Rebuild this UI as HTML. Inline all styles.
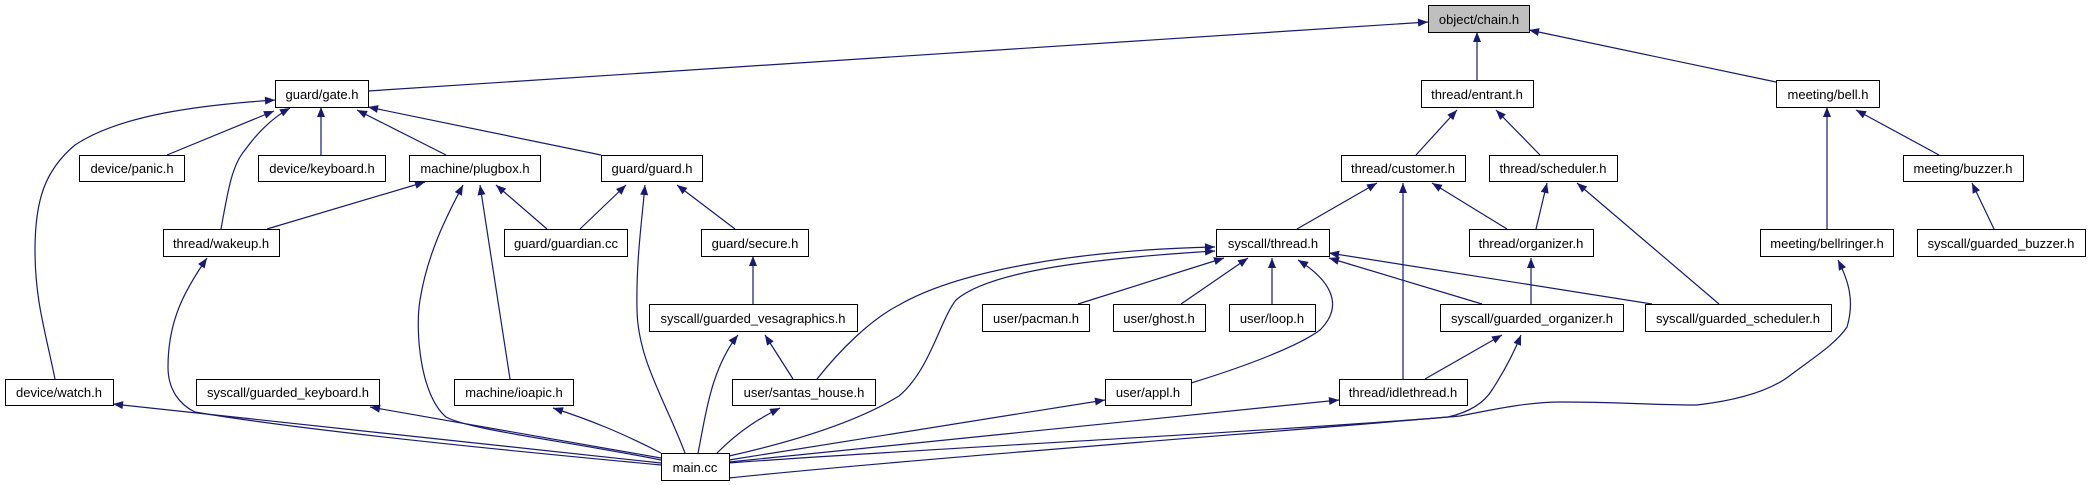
<!DOCTYPE html>
<html><head><meta charset="utf-8"><style>
html,body{margin:0;padding:0;background:#fff;}
svg{display:block;}
text{font-family:"Liberation Sans",sans-serif;font-size:13px;fill:#000;}
</style></head><body>
<svg width="2091" height="485" viewBox="0 0 2091 485" xmlns="http://www.w3.org/2000/svg">
<defs>
<marker id="a" viewBox="0 0 10 8" refX="10" refY="4" markerWidth="11" markerHeight="8" markerUnits="userSpaceOnUse" orient="auto">
<path d="M0,0 L10,4 L0,8 z" fill="#191970"/>
</marker>
</defs>
<g fill="none" stroke="#191970" stroke-width="1.2" marker-end="url(#a)">
<path d="M368,91 L1428,22"/>
<path d="M1477,80 L1477,32"/>
<path d="M1776,82 L1529,30"/>
<path d="M167,155 L274,111"/>
<path d="M55,379 C45,330 35,300 35,250 C35,200 45,170 75,145 C120,115 200,105 275,100"/>
<path d="M221,229 C228,190 232,165 245,150 C258,132 272,118 290,108"/>
<path d="M321,155 L321,107"/>
<path d="M446,155 L357,110"/>
<path d="M601,155 L368,107"/>
<path d="M267,229 L425,182"/>
<path d="M547,229 L496,185"/>
<path d="M510,379 L480,185"/>
<path d="M661,460 C560,440 470,430 446,417 C420,395 415,330 420,300 C428,250 450,210 463,185"/>
<path d="M580,229 L626,185"/>
<path d="M685,453 C665,400 638,360 637,310 C636,260 642,220 645,185"/>
<path d="M735,229 L677,185"/>
<path d="M753,304 L753,256"/>
<path d="M698,453 C705,420 710,370 738,335"/>
<path d="M793,379 L765,335"/>
<path d="M717,453 C740,430 760,418 780,408"/>
<path d="M817,379 C840,350 870,320 899,305 C960,270 1080,250 1215,247"/>
<path d="M729,456 C800,440 860,420 899,396 C930,370 940,320 956,300 C990,270 1100,258 1215,251"/>
<path d="M1078,304 L1224,258"/>
<path d="M1181,304 L1248,258"/>
<path d="M1272,304 L1272,258"/>
<path d="M1191,383 C1250,365 1300,345 1320,330 C1345,305 1330,280 1298,260"/>
<path d="M1482,304 L1329,258"/>
<path d="M1652,304 L1329,253"/>
<path d="M1297,229 L1377,183"/>
<path d="M1416,155 L1457,110"/>
<path d="M1540,155 L1496,110"/>
<path d="M1403,379 L1403,183"/>
<path d="M1507,229 L1432,183"/>
<path d="M1536,229 L1547,183"/>
<path d="M1719,304 L1577,183"/>
<path d="M1531,304 L1531,258"/>
<path d="M1425,379 L1502,335"/>
<path d="M729,478 C900,460 1300,430 1448,417 C1470,412 1484,403 1492,390 C1505,370 1515,350 1521,335"/>
<path d="M729,462 L1339,400"/>
<path d="M729,460 L1105,400"/>
<path d="M729,463 C900,450 1300,430 1460,416 C1500,408 1530,402 1561,402 C1620,402 1650,405 1697,405 C1740,400 1770,390 1788,377 C1810,360 1835,345 1847,327 C1855,300 1848,280 1838,260"/>
<path d="M1827,229 L1827,107"/>
<path d="M1939,155 L1856,110"/>
<path d="M1994,229 L1972,183"/>
<path d="M661,463 L113,404"/>
<path d="M661,465 C500,450 300,430 195,412 C180,405 168,390 168,367 C168,320 185,290 207,258"/>
<path d="M661,458 L370,407"/>
<path d="M661,453 C620,432 590,420 553,408"/>
</g>
<g stroke="#000" stroke-width="1" fill="#fff">
<rect x="1428.5" y="5.5" width="101" height="27" fill="#bfbfbf"/>
<rect x="275.5" y="80.5" width="93" height="27"/>
<rect x="1421.5" y="80.5" width="112" height="27"/>
<rect x="1776.5" y="80.5" width="103" height="27"/>
<rect x="79.5" y="155.5" width="105" height="26"/>
<rect x="258.5" y="155.5" width="127" height="26"/>
<rect x="409.5" y="155.5" width="131" height="26"/>
<rect x="601.5" y="155.5" width="101" height="26"/>
<rect x="1341.5" y="155.5" width="124" height="26"/>
<rect x="1489.5" y="155.5" width="128" height="26"/>
<rect x="1903.5" y="155.5" width="120" height="26"/>
<rect x="163.5" y="229.5" width="116" height="27"/>
<rect x="504.5" y="229.5" width="123" height="27"/>
<rect x="701.5" y="229.5" width="107" height="27"/>
<rect x="1216.5" y="229.5" width="113" height="27"/>
<rect x="1469.5" y="229.5" width="124" height="27"/>
<rect x="1760.5" y="229.5" width="133" height="27"/>
<rect x="1917.5" y="229.5" width="168" height="27"/>
<rect x="649.5" y="304.5" width="208" height="27"/>
<rect x="982.5" y="304.5" width="107" height="27"/>
<rect x="1113.5" y="304.5" width="92" height="27"/>
<rect x="1229.5" y="304.5" width="86" height="27"/>
<rect x="1440.5" y="304.5" width="183" height="27"/>
<rect x="1645.5" y="304.5" width="186" height="27"/>
<rect x="5.5" y="379.5" width="108" height="26"/>
<rect x="196.5" y="379.5" width="183" height="26"/>
<rect x="454.5" y="379.5" width="119" height="26"/>
<rect x="732.5" y="379.5" width="143" height="26"/>
<rect x="1105.5" y="379.5" width="86" height="26"/>
<rect x="1339.5" y="379.5" width="128" height="26"/>
<rect x="661.5" y="453.5" width="68" height="27"/>
</g>
<g text-anchor="middle">
<text x="1479" y="24">object/chain.h</text>
<text x="322" y="99">guard/gate.h</text>
<text x="1477" y="99">thread/entrant.h</text>
<text x="1828" y="99">meeting/bell.h</text>
<text x="132" y="173">device/panic.h</text>
<text x="322" y="173">device/keyboard.h</text>
<text x="475" y="173">machine/plugbox.h</text>
<text x="652" y="173">guard/guard.h</text>
<text x="1403" y="173">thread/customer.h</text>
<text x="1553" y="173">thread/scheduler.h</text>
<text x="1963" y="173">meeting/buzzer.h</text>
<text x="221" y="248">thread/wakeup.h</text>
<text x="566" y="248">guard/guardian.cc</text>
<text x="755" y="248">guard/secure.h</text>
<text x="1273" y="248">syscall/thread.h</text>
<text x="1531" y="248">thread/organizer.h</text>
<text x="1827" y="248">meeting/bellringer.h</text>
<text x="2001" y="248">syscall/guarded_buzzer.h</text>
<text x="753" y="323">syscall/guarded_vesagraphics.h</text>
<text x="1036" y="323">user/pacman.h</text>
<text x="1159" y="323">user/ghost.h</text>
<text x="1272" y="323">user/loop.h</text>
<text x="1532" y="323">syscall/guarded_organizer.h</text>
<text x="1738" y="323">syscall/guarded_scheduler.h</text>
<text x="59" y="397">device/watch.h</text>
<text x="288" y="397">syscall/guarded_keyboard.h</text>
<text x="514" y="397">machine/ioapic.h</text>
<text x="804" y="397">user/santas_house.h</text>
<text x="1148" y="397">user/appl.h</text>
<text x="1403" y="397">thread/idlethread.h</text>
<text x="695" y="472">main.cc</text>
</g>
</svg>
</body></html>
